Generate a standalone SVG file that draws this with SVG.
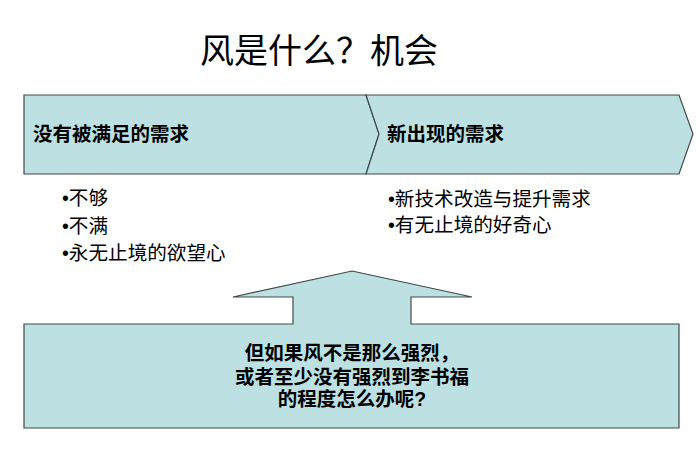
<svg xmlns="http://www.w3.org/2000/svg" width="700" height="469" viewBox="0 0 700 469">
<style>
.shape{fill:#bde0e3;stroke:#3f4a4c;stroke-width:1.2;stroke-linejoin:miter}
text{font-family:"Liberation Sans","Noto Sans CJK SC",sans-serif;fill:#000}
.title{font-size:34px}
.head{font-size:19.5px;font-weight:bold}
.item{font-size:19.6px}
.center{text-anchor:middle}
</style>
<rect width="700" height="469" fill="#fff"/>
<text class="title" x="200" y="63">风是什么？机会</text>
<g id="unmet-needs">
<polygon class="shape" points="24,95 366,95 379,134 366,174 24,174"/>
<text class="head" x="33" y="141">没有被满足的需求</text>
<text class="item" x="62" y="205">•不够</text>
<text class="item" x="62" y="233">•不满</text>
<text class="item" x="62" y="260">•永无止境的欲望心</text>
</g>
<g id="new-needs">
<polygon class="shape" points="366,95 679,95 693,134 679,174 366,174 379,134"/>
<text class="head" x="387" y="141">新出现的需求</text>
<text class="item" x="388" y="206">•新技术改造与提升需求</text>
<text class="item" x="388" y="232">•有无止境的好奇心</text>
</g>
<g id="question">
<polygon class="shape" points="352,271 472,297 411,297 411,324 679,324 679,428 24,428 24,324 293,324 293,297 233,297"/>
<text class="head center" x="352" y="360">但如果风不是那么强烈，</text>
<text class="head center" x="352" y="384">或者至少没有强烈到李书福</text>
<text class="head center" x="352" y="406">的程度怎么办呢?</text>
</g>
<g id="connectors"></g>
</svg>
